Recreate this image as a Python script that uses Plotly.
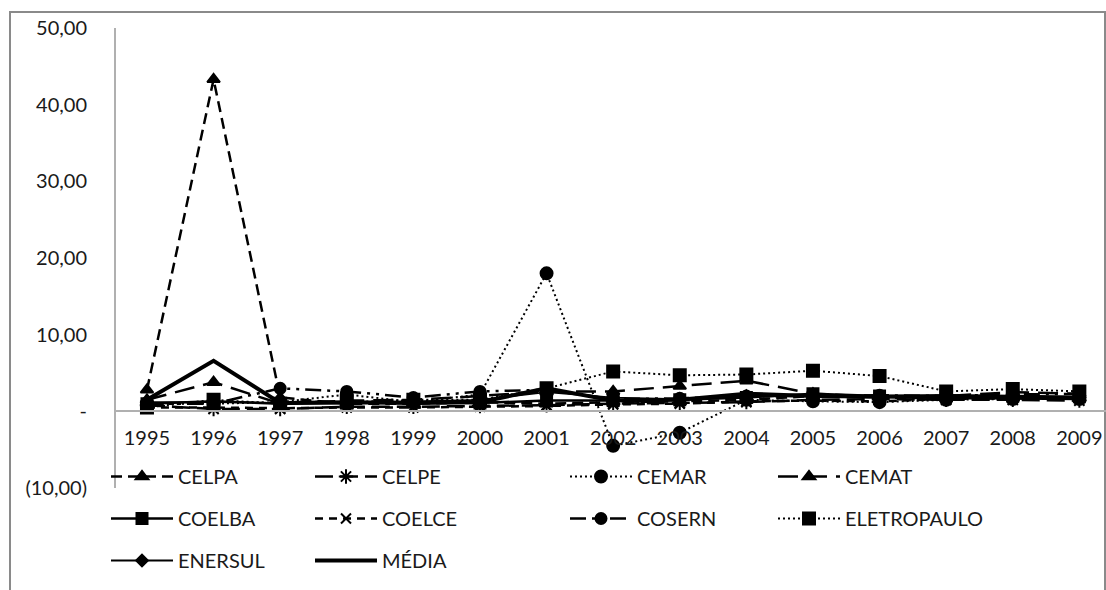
import plotly.graph_objects as go

years = ["1995", "1996", "1997", "1998", "1999", "2000", "2001", "2002",
         "2003", "2004", "2005", "2006", "2007", "2008", "2009"]

celpa = [2.8, 43.3, 1.8, 1.0, 1.0, 1.2, 1.0, 1.2, 1.3, 1.5, 2.0, 1.8, 1.7, 1.8, 1.7]
celpe = [0.8, 0.3, 0.3, 0.6, 0.6, 0.7, 0.8, 1.0, 1.1, 1.2, 1.5, 1.6, 1.5, 1.5, 1.4]
cemar = [1.0, 1.0, 1.2, 2.2, 1.2, 2.2, 18.0, -4.5, -2.8, 1.5, 1.3, 1.2, 1.5, 1.6, 1.6]
cemat = [1.5, 3.8, 1.0, 1.4, 1.5, 2.0, 2.6, 2.6, 3.3, 4.0, 2.3, 1.9, 2.0, 2.5, 2.3]
coelba = [1.0, 1.3, 1.0, 1.1, 1.2, 1.1, 1.4, 1.4, 1.5, 1.8, 2.3, 2.0, 2.1, 2.0, 1.9]
coelce = [0.5, 0.5, 0.4, 0.5, 0.5, 0.6, 0.7, 0.9, 1.0, 1.3, 1.4, 1.3, 1.6, 1.7, 1.8]
cosern = [1.0, 1.0, 3.0, 2.6, 1.8, 2.6, 2.8, 1.6, 1.7, 2.0, 2.0, 2.1, 2.0, 2.2, 2.3]
eletropaulo = [0.5, 1.5, 1.0, 1.2, 1.5, 1.5, 3.0, 5.2, 4.7, 4.8, 5.3, 4.6, 2.6, 2.9, 2.6]
enersul = [1.2, 1.2, 1.1, 1.2, 1.3, 1.5, 2.5, 1.8, 1.6, 2.0, 2.1, 1.9, 1.9, 1.8, 1.8]
media = [1.5, 6.6, 1.1, 1.2, 1.1, 1.2, 3.0, 1.4, 1.5, 2.3, 2.0, 1.9, 1.8, 1.8, 1.7]

ytick_vals = [-10, 0, 10, 20, 30, 40, 50]
ytick_text = ["(10,00)", "-", "10,00", "20,00", "30,00", "40,00", "50,00"]

FONT = "Lato"
FS = 20
BLACK = "#000000"
TXT = "#1a1a1a"

series = [
    # name, values, dash, width, symbol, size, legend
    ("CELPA", celpa, "11px,6px", 2.5, "triangle-up", 11, "legend"),
    ("CELPE", celpe, "18px,7px", 2.5, "asterisk-open", 12, "legend2"),
    ("CEMAR", cemar, "2px,3px", 2, "circle", 12, "legend3"),
    ("CEMAT", cemat, "20px,9px", 2.5, "triangle-up", 11, "legend4"),
    ("COELBA", coelba, "solid", 2.5, "square", 11, "legend"),
    ("COELCE", coelce, "8px,6px", 2.5, "x-thin-open", 10, "legend2"),
    ("COSERN", cosern, "16px,6px,3px,6px,3px,6px", 2.5, "circle", 11, "legend3"),
    ("ELETROPAULO", eletropaulo, "2px,3px", 2, "square", 12, "legend4"),
    ("ENERSUL", enersul, "solid", 1.8, "diamond", 9, "legend"),
    ("MÉDIA", media, "solid", 4, None, 0, "legend2"),
]

fig = go.Figure()
for name, vals, dash, w, sym, sz, leg in series:
    mode = "lines+markers" if sym else "lines"
    marker = dict(symbol=sym, size=sz, color=BLACK,
                  line=dict(color=BLACK, width=2)) if sym else None
    fig.add_trace(go.Scatter(
        x=years, y=vals, name=name, mode=mode,
        line=dict(color=BLACK, width=w, dash=dash),
        marker=marker, legend=leg, legendgroup=name,
    ))

W, H = 1106, 590
L, R, T, B = 116, 0, 28, 102
pw, ph = W - L - R, H - T - B


def px_x(p):
    return (p - L) / pw


def px_y(p):
    return (H - B - p) / ph


leg_common = dict(orientation="v", yanchor="top", xanchor="left",
                  font=dict(family=FONT, size=FS, color=TXT),
                  bgcolor="rgba(0,0,0,0)", itemwidth=62, tracegroupgap=13,
                  itemclick=False, itemdoubleclick=False)
leg_top = px_y(457)

fig.update_layout(
    width=W, height=H,
    margin=dict(l=L, r=R, t=T, b=B),
    paper_bgcolor="white", plot_bgcolor="white",
    font=dict(family=FONT, size=FS, color=TXT),
    showlegend=True,
    legend=dict(x=px_x(106), y=leg_top, **leg_common),
    legend2=dict(x=px_x(310), y=leg_top, **leg_common),
    legend3=dict(x=px_x(565), y=leg_top, **leg_common),
    legend4=dict(x=px_x(773), y=leg_top, **leg_common),
    xaxis=dict(
        type="category", range=[-0.465, 14.4],
        anchor="free", position=px_y(411),
        showline=True, linecolor="#b0b0b0", linewidth=2,
        showgrid=False, zeroline=False, ticks="",
        tickfont=dict(family=FONT, size=FS, color=TXT),
        ticklabelstandoff=9,
    ),
    yaxis=dict(
        range=[-10, 50], tickvals=ytick_vals, ticktext=ytick_text,
        showline=True, linecolor="#b0b0b0", linewidth=2,
        showgrid=False, zeroline=False, ticks="",
        ticklabelstandoff=23,
        tickfont=dict(family=FONT, size=FS, color=TXT),
    ),
    shapes=[dict(type="rect", xref="paper", yref="paper",
                 x0=px_x(10), x1=px_x(1105), y0=px_y(12), y1=px_y(620),
                 line=dict(color="#8a8a8a", width=2), layer="below")],
)

fig.write_html("out.html")
